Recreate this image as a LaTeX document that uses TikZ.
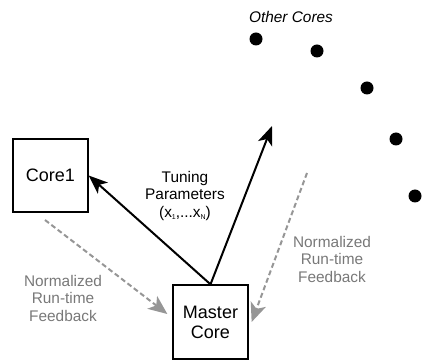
\documentclass[tikz,border=0pt]{standalone}
\usepackage{fontspec}
\setmainfont{Liberation Sans}
\usetikzlibrary{arrows.meta}
\definecolor{txtgray}{RGB}{120,120,120}
\definecolor{dashgray}{RGB}{150,150,150}
\newcommand{\tinysub}[1]{\raisebox{-2.5pt}{\fontsize{7}{8}\selectfont #1}}
\begin{document}
\begin{tikzpicture}[x=1pt,y=-1pt,
  corebox/.style={draw,line width=1.3pt,minimum width=75pt,minimum height=74pt,inner sep=0pt,font=\fontsize{18}{20}\selectfont,align=center},
  tune/.style={-{Stealth[length=19pt,width=15pt,inset=5pt]},line width=2pt},
  feed/.style={-{Stealth[length=19pt,width=16pt,inset=5pt]},dashgray,line width=2pt,dash pattern=on 5pt off 3pt},
  lbl/.style={font=\fontsize{15.4}{17.5}\selectfont,align=center},
  dot/.style={circle,fill,inner sep=0pt,minimum size=13pt}]
\useasboundingbox (0,0) rectangle (426,363);
\node[corebox,minimum height=73pt] (core1) at (50.5,175.5) {Core1};
\node[corebox] (master) at (210.5,322) {Master\\Core};
\node[lbl,font=\itshape\fontsize{15.4}{17.5}\selectfont] (other) at (291,17) {Other Cores};
\node[dot] (d1) at (256,39) {};
\node[dot] (d2) at (317,51) {};
\node[dot] (d3) at (367,88) {};
\node[dot] (d4) at (396,139) {};
\node[dot] (d5) at (415,196) {};
\coordinate (otip) at (272,126);
\coordinate (c1feed) at (45,220);
\coordinate (ofeed) at (307,173);
\node[lbl] (tunelbl) at (185,196) {Tuning\\Parameters\\(x\tinysub{1},...x\tinysub{N})};
\node[lbl,txtgray] (lfeed) at (63,298) {Normalized\\Run-time\\Feedback};
\node[lbl,txtgray] (rfeed) at (332,259) {Normalized\\Run-time\\Feedback};
\draw[tune] (master.north) -- (core1.east);
\draw[tune] (master.north) -- (otip);
\draw[feed] (c1feed) -- ([xshift=-5pt,yshift=8pt]master.west);
\draw[feed] (ofeed) -- ([xshift=3pt]master.east);
\end{tikzpicture}
\end{document}
